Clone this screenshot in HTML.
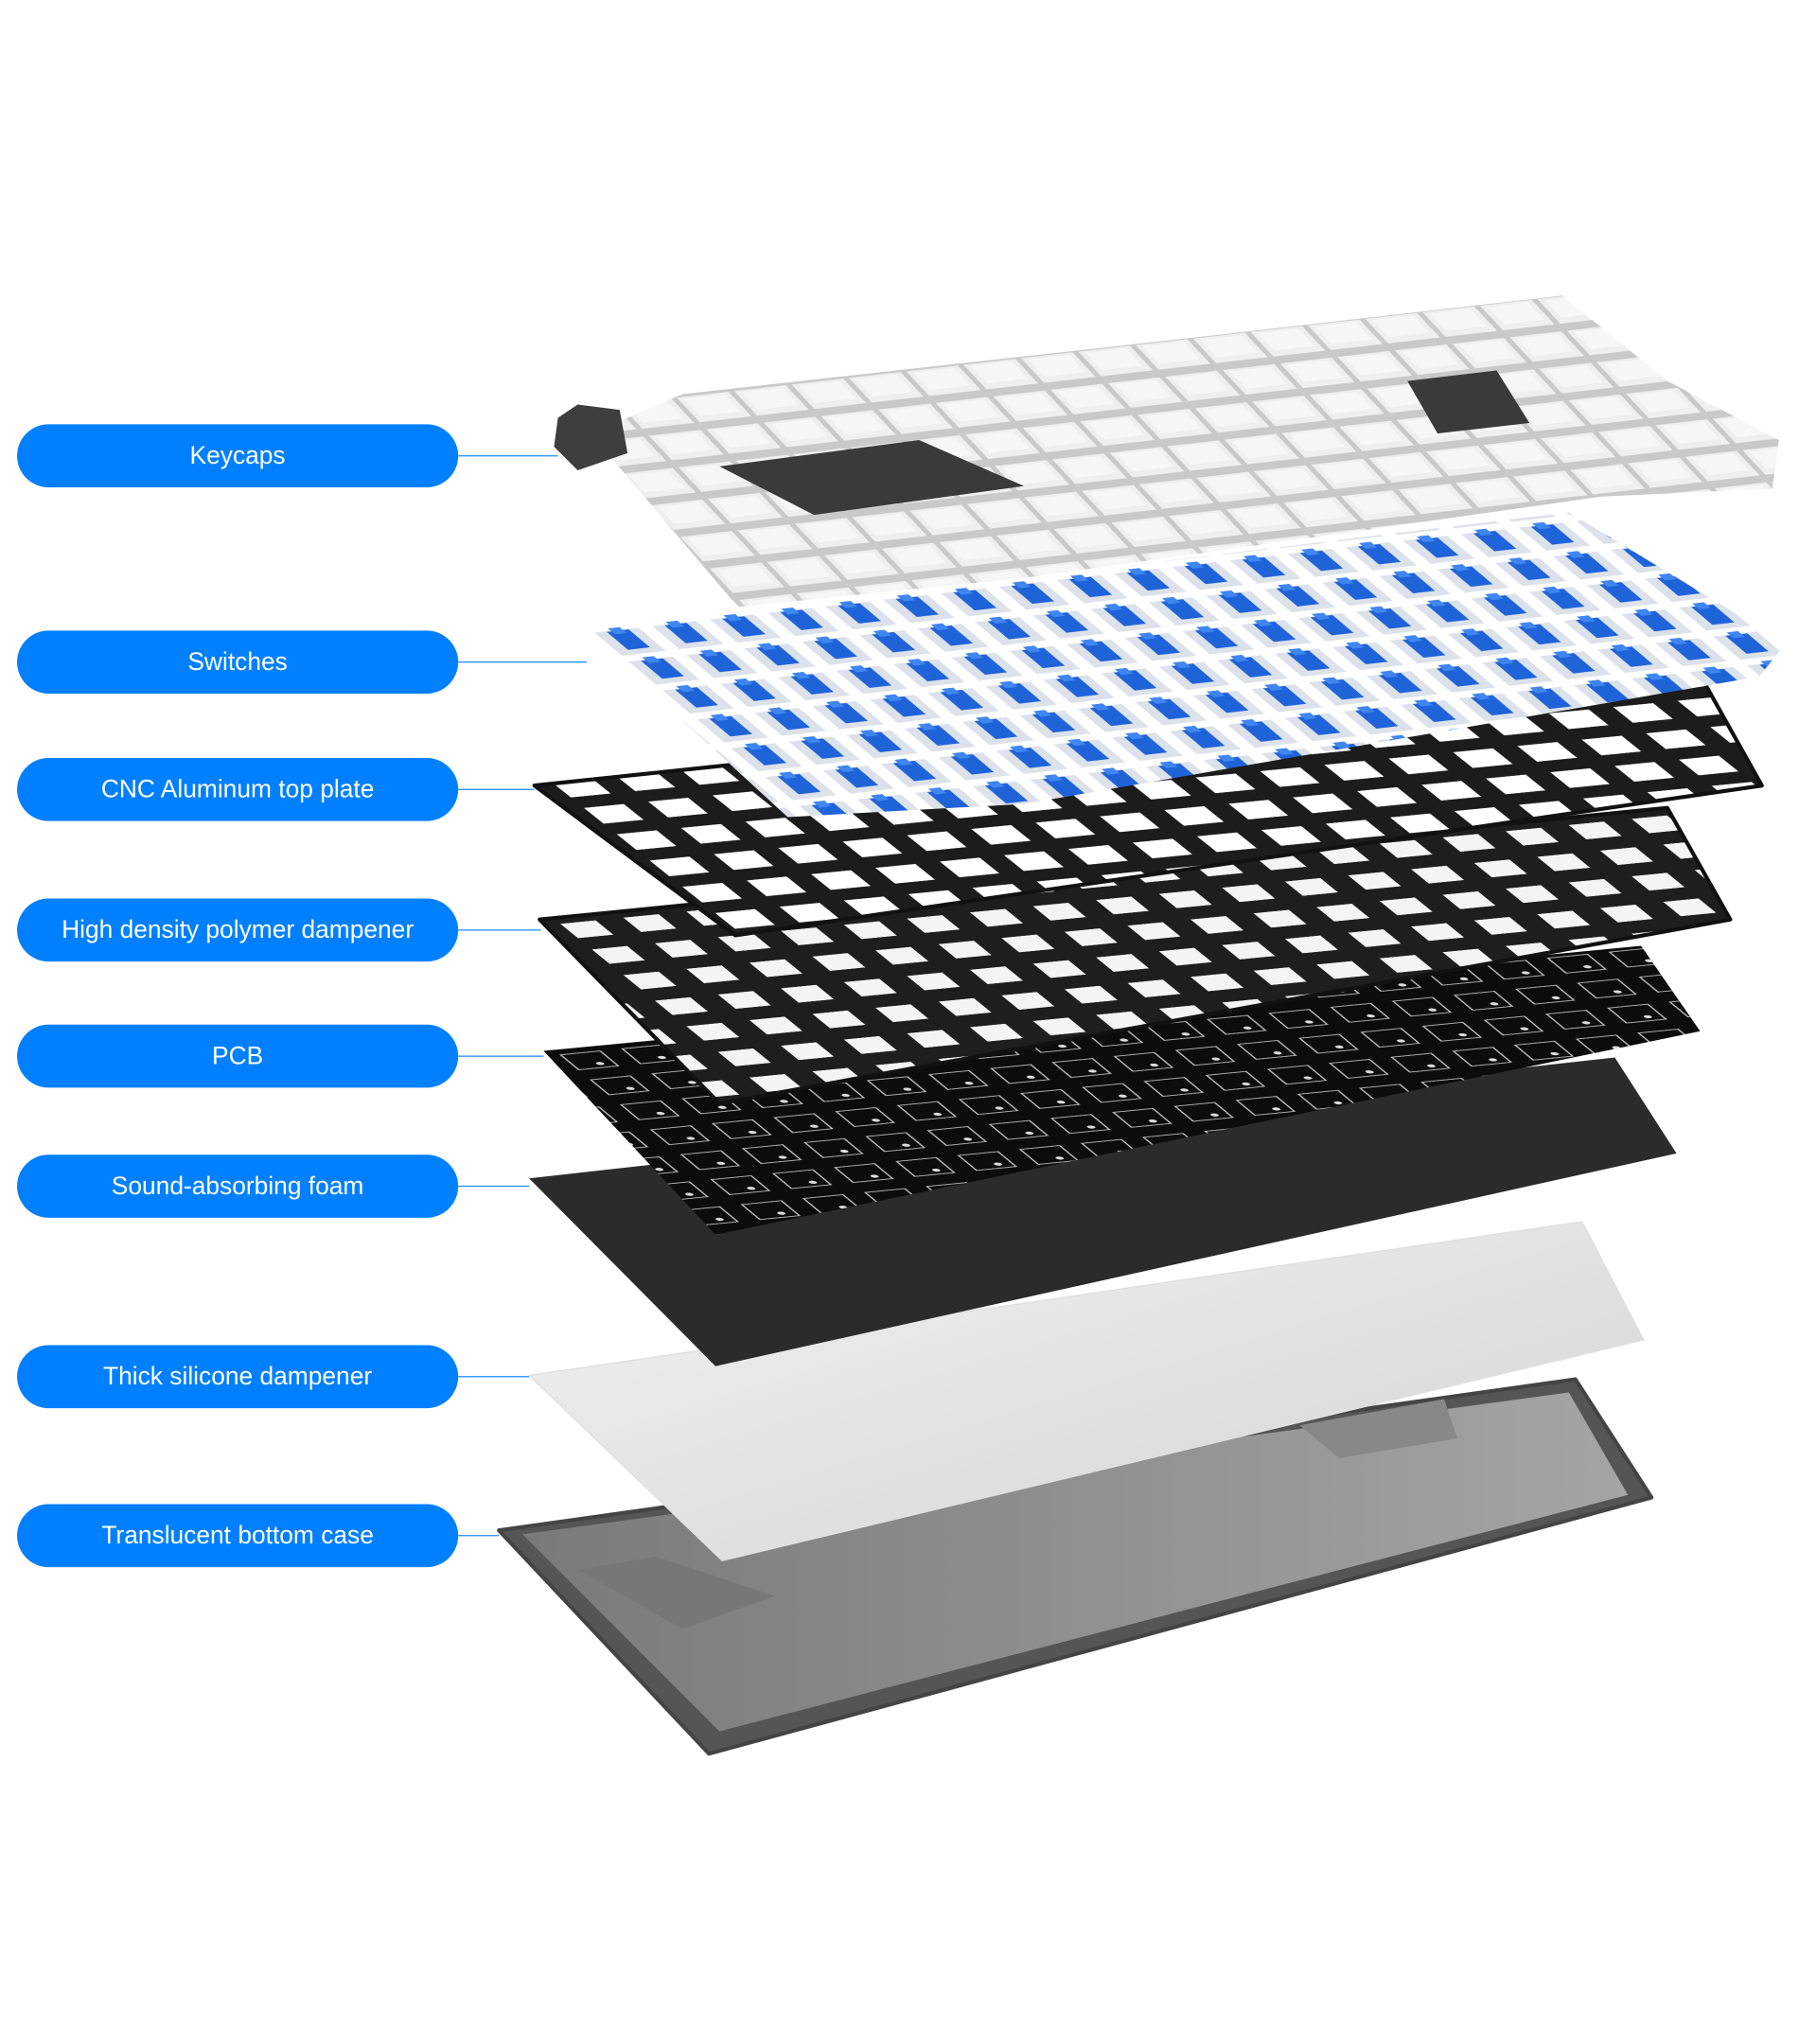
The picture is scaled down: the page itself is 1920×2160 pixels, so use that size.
<!DOCTYPE html>
<html><head><meta charset="utf-8"><style>
html,body{margin:0;padding:0;background:#fff;}
svg{display:block;}
</style></head><body>
<svg width="1920" height="2160" viewBox="0 0 1384 1556" preserveAspectRatio="none" xmlns="http://www.w3.org/2000/svg">
<defs>
 <pattern id="holes" patternUnits="userSpaceOnUse" width="1" height="1" patternTransform="matrix(49 -4.8 25 20 405 592)">
  <rect x="0" y="0" width="1" height="1" fill="#1c1c1c"/>
  <rect x="0.2" y="0.2" width="0.62" height="0.6" fill="#fff"/>
 </pattern>
 <pattern id="holes2" patternUnits="userSpaceOnUse" width="1" height="1" patternTransform="matrix(48 -4.7 24 19.5 411 700)">
  <rect x="0" y="0" width="1" height="1" fill="#1e1e1e"/>
  <rect x="0.22" y="0.22" width="0.56" height="0.56" fill="#f4f4f4"/>
 </pattern>
 <pattern id="pcb" patternUnits="userSpaceOnUse" width="1" height="1" patternTransform="matrix(47 -4.6 23 19 414 800)">
  <rect x="0" y="0" width="1" height="1" fill="#0c0c0c"/>
  <rect x="0.18" y="0.2" width="0.64" height="0.6" fill="none" stroke="#bbb" stroke-width="0.03"/>
  <circle cx="0.6" cy="0.65" r="0.06" fill="#ddd"/>
 </pattern>
 <pattern id="keys" patternUnits="userSpaceOnUse" width="1" height="1" patternTransform="matrix(43.7 -5 22.5 24 425 312)">
  <rect x="0" y="0" width="1" height="1" fill="#c9c9c9"/>
  <rect x="0.05" y="0.04" width="0.9" height="0.78" fill="#efefef"/>
  <rect x="0.15" y="0.1" width="0.7" height="0.55" fill="#f7f7f7"/>
 </pattern>
 <pattern id="sw" patternUnits="userSpaceOnUse" width="1" height="1" patternTransform="matrix(44 -5 26 22 445 480)">
  <rect x="0" y="0" width="1" height="1" fill="#fff"/>
  <rect x="0.12" y="0.1" width="0.76" height="0.8" fill="#dde2ea"/>
  <rect x="0.32" y="0.12" width="0.38" height="0.62" fill="#1f63d8"/>
  <rect x="0.4" y="0.02" width="0.2" height="0.2" fill="#3f86f0"/>
 </pattern>
 <linearGradient id="sil" x1="0" y1="0" x2="1" y2="1">
  <stop offset="0" stop-color="#f2f2f2"/><stop offset="1" stop-color="#d3d3d3"/>
 </linearGradient>
 <linearGradient id="cs" x1="0" y1="0" x2="1" y2="0">
  <stop offset="0" stop-color="#7a7a7a"/><stop offset="1" stop-color="#a5a5a5"/>
 </linearGradient>
</defs>

<!-- case -->
<polygon points="380,1165 1200,1050 1258,1140 540,1335" fill="#555" stroke="#444" stroke-width="3" stroke-linejoin="round"/>
<polygon points="398,1168 1195,1060 1240,1138 548,1318" fill="url(#cs)"/>
<polygon points="440,1195 500,1185 590,1215 520,1240" fill="#777"/>
<polygon points="990,1085 1100,1065 1110,1095 1020,1110" fill="#888"/>
<!-- silicone -->
<polygon points="403,1047 1205,930 1252,1020 550,1188" fill="url(#sil)" stroke="#e0e0e0" stroke-width="1" stroke-linejoin="round"/>
<!-- foam -->
<polygon points="403,897 1230,805 1277,878 545,1040" fill="#2b2b2b" stroke-linejoin="round"/>
<!-- pcb -->
<polygon points="414,800 1250,720 1295,785 545,940" fill="url(#pcb)"/>
<!-- dampener -->
<polygon points="411,700 1270,615 1318,700 548,840" fill="url(#holes2)" stroke="#111" stroke-width="3" stroke-linejoin="round"/>
<!-- plate -->
<polygon points="407,598 1290,505 1342,598 560,712" fill="url(#holes)" stroke="#111" stroke-width="3" stroke-linejoin="round"/>
<!-- switches -->
<polygon points="445,480 1195,390 1360,490 1340,515 780,612 600,622" fill="url(#sw)"/>
<!-- keycaps -->
<polygon points="450,330 520,300 900,258 1190,225 1270,290 1355,335 1350,372 1220,378 980,412 780,440 562,462" fill="url(#keys)"/>
<polygon points="548,355 700,335 780,370 620,392" fill="#3a3a3a"/>
<polygon points="1072,290 1140,282 1165,322 1095,330" fill="#3a3a3a"/>
<polygon points="425,318 440,308 472,312 478,345 440,358 422,340" fill="#3e3e3e"/>

<!-- connectors -->
<g stroke="#1a8cff" stroke-width="0.9">
<line x1="349" y1="347" x2="425" y2="347"/>
<line x1="349" y1="504" x2="447" y2="504"/>
<line x1="349" y1="601" x2="407" y2="601"/>
<line x1="349" y1="708" x2="412" y2="708"/>
<line x1="349" y1="804" x2="414" y2="804"/>
<line x1="349" y1="903" x2="403" y2="903"/>
<line x1="349" y1="1048" x2="403" y2="1048"/>
<line x1="349" y1="1169" x2="380" y2="1169"/>
</g>
<!-- pills -->
<g fill="#0080ff">
<rect x="13" y="323" width="336" height="48" rx="24"/>
<rect x="13" y="480" width="336" height="48" rx="24"/>
<rect x="13" y="577" width="336" height="48" rx="24"/>
<rect x="13" y="684" width="336" height="48" rx="24"/>
<rect x="13" y="780" width="336" height="48" rx="24"/>
<rect x="13" y="879" width="336" height="48" rx="24"/>
<rect x="13" y="1024" width="336" height="48" rx="24"/>
<rect x="13" y="1145" width="336" height="48" rx="24"/>
</g>
<g fill="#fff" font-family="Liberation Sans, sans-serif" font-size="19" text-anchor="middle">
<text x="181" y="353">Keycaps</text>
<text x="181" y="510">Switches</text>
<text x="181" y="607">CNC Aluminum  top plate</text>
<text x="181" y="714">High density polymer dampener</text>
<text x="181" y="810">PCB</text>
<text x="181" y="909">Sound-absorbing foam</text>
<text x="181" y="1054">Thick silicone dampener</text>
<text x="181" y="1175">Translucent bottom case</text>
</g>
</svg>
</body></html>
